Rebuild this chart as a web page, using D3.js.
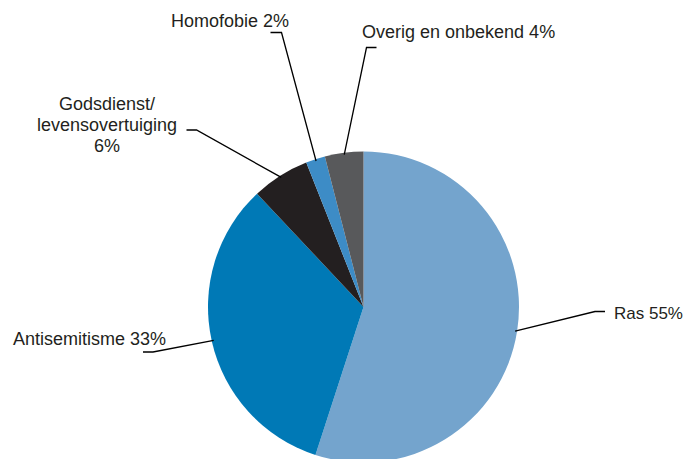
<!DOCTYPE html>
<html>
<head>
<meta charset="utf-8">
<script src="https://cdn.jsdelivr.net/npm/d3@7"></script>
<style>
  html, body { margin: 0; padding: 0; background: #fff; }
  svg { display: block; }
  text { font-family: "Liberation Sans", Arial, sans-serif; font-size: 18px; fill: #231f20; }
</style>
</head>
<body>
<svg id="chart" width="685" height="459"></svg>
<script>
const categories = ["Ras", "Antisemitisme", "Godsdienst/ levensovertuiging", "Homofobie", "Overig en onbekend"];
const values = [55, 33, 6, 2, 4];
const labels = [["Ras 55%"], ["Antisemitisme 33%"], ["Godsdienst/", "levensovertuiging", "6%"], ["Homofobie 2%"], ["Overig en onbekend 4%"]];
const colors = ["#74a4cd", "#0079b6", "#231f20", "#3d8cc6", "#58595b"];

// label layout: elbow point, tick end, text anchor point, anchor, optional font size
const layout = [
  { elbow: [595, 311.5], tick: [605, 311.5], text: [614, 319], anchor: "start", size: 17 },
  { elbow: [153, 352], tick: [143, 352], text: [13, 345], anchor: "start" },
  { elbow: [196.5, 130], tick: [186.5, 130], text: [107, 110], anchor: "middle" },
  { elbow: [281.5, 32.5], tick: [270.5, 32.5], text: [171, 27], anchor: "start" },
  { elbow: [366.5, 47.5], tick: [376.5, 47.5], text: [362, 38], anchor: "start" }
];

const svg = d3.select("#chart");
const cx = 363.5, cy = 307, r = 155.5;
const g = svg.append("g").attr("transform", `translate(${cx},${cy})`);

const pie = d3.pie().sort(null).value(d => d)(values);
const arc = d3.arc().innerRadius(0).outerRadius(r);
const edge = d3.arc().innerRadius(r - 2).outerRadius(r - 2);

g.selectAll("path.slice").data(pie).enter().append("path")
  .attr("class", "slice")
  .attr("d", arc)
  .attr("fill", (d, i) => colors[i]);

// leader lines
svg.selectAll("polyline.leader").data(pie).enter().append("polyline")
  .attr("class", "leader")
  .attr("fill", "none")
  .attr("stroke", "#000")
  .attr("stroke-width", 1.3)
  .attr("points", (d, i) => {
    const c = edge.centroid(d);
    const p0 = [cx + c[0], cy + c[1]];
    return [p0, layout[i].elbow, layout[i].tick].map(p => p.join(",")).join(" ");
  });

// labels
labels.forEach((lines, i) => {
  const t = svg.append("text")
    .attr("x", layout[i].text[0])
    .attr("y", layout[i].text[1])
    .attr("text-anchor", layout[i].anchor);
  if (layout[i].size) t.style("font-size", layout[i].size + "px");
  lines.forEach((line, j) => {
    t.append("tspan")
      .attr("x", layout[i].text[0])
      .attr("dy", j === 0 ? 0 : 21)
      .text(line);
  });
});
</script>
</body>
</html>
